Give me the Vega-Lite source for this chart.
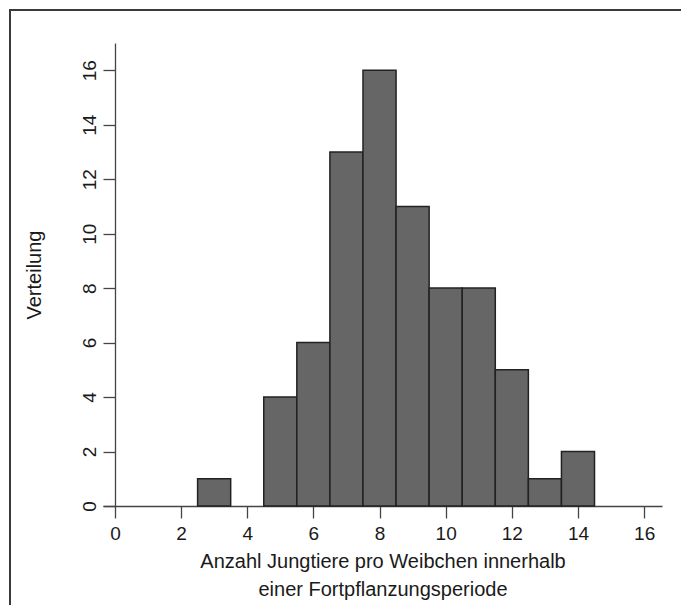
{
  "$schema": "https://vega.github.io/schema/vega-lite/v6.json",
  "width": 675,
  "height": 599,
  "autosize": {"type": "none"},
  "padding": {"left": 10, "top": 10, "right": 0, "bottom": 0},
  "background": "white",
  "config": {
    "view": {"stroke": "#3a3a3a", "strokeWidth": 2},
    "font": "Liberation Sans",
    "axis": {
      "grid": false,
      "domainColor": "#444444",
      "domainWidth": 1.3,
      "tickColor": "#444444",
      "tickWidth": 1.3,
      "tickSize": 12,
      "labelFont": "Liberation Sans",
      "labelFontSize": 19,
      "labelColor": "#1a1a1a",
      "titleFont": "Liberation Sans",
      "titleFontSize": 20,
      "titleFontWeight": "normal",
      "titleColor": "#1a1a1a",
      "labelOverlap": false,
      "labelFlush": false
    }
  },
  "data": {
    "values": [
      {"start": 2.5, "end": 3.5, "count": 1},
      {"start": 4.5, "end": 5.5, "count": 4},
      {"start": 5.5, "end": 6.5, "count": 6},
      {"start": 6.5, "end": 7.5, "count": 13},
      {"start": 7.5, "end": 8.5, "count": 16},
      {"start": 8.5, "end": 9.5, "count": 11},
      {"start": 9.5, "end": 10.5, "count": 8},
      {"start": 10.5, "end": 11.5, "count": 8},
      {"start": 11.5, "end": 12.5, "count": 5},
      {"start": 12.5, "end": 13.5, "count": 1},
      {"start": 13.5, "end": 14.5, "count": 2}
    ]
  },
  "mark": {"type": "rect", "fill": "#666666", "stroke": "#222222", "strokeWidth": 1.5},
  "encoding": {
    "x": {
      "field": "start",
      "type": "quantitative",
      "scale": {"domain": [-0.36, 16.54], "range": [93, 652], "nice": false, "zero": false},
      "axis": {
        "title": ["Anzahl Jungtiere pro Weibchen innerhalb", "einer Fortpflanzungsperiode"],
        "values": [0, 2, 4, 6, 8, 10, 12, 14, 16],
        "offset": -103,
        "labelPadding": 6,
        "titlePadding": 8,
        "titleLineHeight": 28
      }
    },
    "x2": {"field": "end"},
    "y": {
      "field": "count",
      "type": "quantitative",
      "scale": {"domain": [0, 17], "range": [496, 33], "nice": false},
      "axis": {
        "title": "Verteilung",
        "values": [0, 2, 4, 6, 8, 10, 12, 14, 16],
        "offset": -105,
        "labelAngle": -90,
        "labelAlign": "center",
        "labelBaseline": "bottom",
        "labelPadding": 4,
        "titlePadding": 36
      }
    },
    "y2": {"datum": 0}
  }
}
